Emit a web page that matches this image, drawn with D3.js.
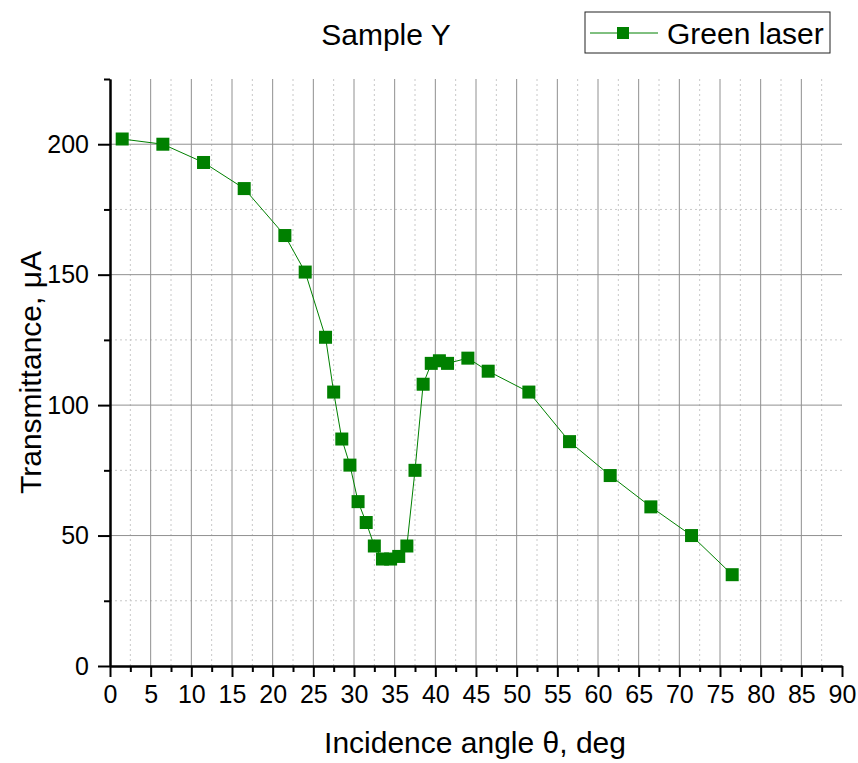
<!DOCTYPE html>
<html>
    <body style="margin:0; background:#fff;">
        <svg id="mySvg" width="858" height="763" style="display:block;"></svg>
        <script src="https://d3js.org/d3.v7.min.js"></script>
        <script>
            // incidence angle (deg) and transmittance (uA)
            const angles = [1.5, 6.5, 11.5, 16.5, 21.5, 24, 26.5, 27.5, 28.5, 29.5, 30.5, 31.5, 32.5, 33.5, 34.5,
                            35.5, 36.5, 37.5, 38.5, 39.5, 40.5, 41.5, 44, 46.5, 51.5, 56.5, 61.5, 66.5, 71.5, 76.5];
            const transmittance = [202, 200, 193, 183, 165, 151, 126, 105, 87, 77, 63, 55, 46, 41, 41,
                                   42, 46, 75, 108, 116, 117, 116, 118, 113, 105, 86, 73, 61, 50, 35];
            const xTicks = d3.range(0, 91, 5);
            const xMinorTicks = d3.range(2.5, 90, 5);
            const yTicks = [0, 50, 100, 150, 200];
            const yMinorTicks = [25, 75, 125, 175, 225];
            const seriesName = 'Green laser';

            const data = angles.map((a, i) => ({x: a, y: transmittance[i]}));

            const svg = d3.select('body #mySvg');
            const margin = {top: 79, right: 16, bottom: 97, left: 110};
            const svgWidth = +svg.attr('width');
            const svgHeight = +svg.attr('height');
            const innerWidth = svgWidth - margin.left - margin.right;
            const innerHeight = svgHeight - margin.top - margin.bottom;
            const font = 'Arial, "Liberation Sans", sans-serif';
            const green = '#008000';

            const g = svg.append('g')
                         .attr('transform', `translate(${margin.left}, ${margin.top})`);

            const xScale = d3.scaleLinear().domain([0, 90]).range([0, innerWidth]);
            const yScale = d3.scaleLinear().domain([0, 225]).range([innerHeight, 0]);

            // grid
            const grid = g.append('g');
            grid.selectAll('.vminor').data(xMinorTicks).enter().append('line')
                .attr('x1', d => xScale(d)).attr('x2', d => xScale(d))
                .attr('y1', 0).attr('y2', innerHeight)
                .attr('stroke', '#c8c8c8').attr('stroke-dasharray', '2,3');
            grid.selectAll('.hminor').data(yMinorTicks.filter(d => d < 225)).enter().append('line')
                .attr('y1', d => yScale(d)).attr('y2', d => yScale(d))
                .attr('x1', 0).attr('x2', innerWidth)
                .attr('stroke', '#c8c8c8').attr('stroke-dasharray', '2,3');
            grid.selectAll('.vmajor').data(xTicks.filter(d => d > 0 && d < 90)).enter().append('line')
                .attr('x1', d => xScale(d)).attr('x2', d => xScale(d))
                .attr('y1', 0).attr('y2', innerHeight)
                .attr('stroke', '#909090');
            grid.selectAll('.hmajor').data(yTicks.filter(d => d > 0)).enter().append('line')
                .attr('y1', d => yScale(d)).attr('y2', d => yScale(d))
                .attr('x1', 0).attr('x2', innerWidth)
                .attr('stroke', '#909090');

            // axes (minor ticks carry no labels)
            const xAxis = d3.axisBottom(xScale).tickValues(xTicks).tickSize(11).tickSizeOuter(0).tickPadding(8);
            const xMinor = d3.axisBottom(xScale).tickValues(xMinorTicks).tickSize(6).tickSizeOuter(0);
            const yAxis = d3.axisLeft(yScale).tickValues(yTicks).tickSize(12).tickSizeOuter(0).tickPadding(9);
            const yMinor = d3.axisLeft(yScale).tickValues(yMinorTicks).tickSize(6).tickSizeOuter(0);

            g.append('g').attr('transform', `translate(0, ${innerHeight})`).call(xMinor)
             .selectAll('text').remove();
            g.append('g').attr('transform', `translate(0, ${innerHeight})`).call(xAxis)
             .attr('font-family', font).attr('font-size', 25);
            g.append('g').call(yMinor)
             .selectAll('text').remove();
            g.append('g').call(yAxis)
             .attr('font-family', font).attr('font-size', 25);

            g.selectAll('.domain').attr('stroke', '#000').attr('stroke-width', 2);
            g.selectAll('.tick line').attr('stroke', '#000').attr('stroke-width', 2);
            g.selectAll('.tick text').attr('fill', '#000');

            // series
            const line = d3.line().x(d => xScale(d.x)).y(d => yScale(d.y));
            g.append('path')
             .datum(data)
             .attr('d', line)
             .attr('fill', 'none')
             .attr('stroke', green)
             .attr('stroke-width', 1);

            const size = 13;
            g.append('g')
             .selectAll('rect')
             .data(data)
             .enter()
             .append('rect')
             .attr('x', d => xScale(d.x) - size / 2)
             .attr('y', d => yScale(d.y) - size / 2)
             .attr('width', size)
             .attr('height', size)
             .attr('fill', green);

            // titles
            svg.append('text')
               .attr('x', 386).attr('y', 45)
               .attr('text-anchor', 'middle')
               .attr('font-family', font).attr('font-size', 30)
               .text('Sample Y');

            svg.append('text')
               .attr('x', 475).attr('y', 753)
               .attr('text-anchor', 'middle')
               .attr('font-family', font).attr('font-size', 30)
               .text('Incidence angle θ, deg');

            svg.append('text')
               .attr('transform', `translate(41, ${margin.top + innerHeight / 2}) rotate(-90)`)
               .attr('text-anchor', 'middle')
               .attr('font-family', font).attr('font-size', 30)
               .text('Transmittance, μA');

            // legend
            const legend = svg.append('g').attr('transform', 'translate(585, 12)');
            legend.append('rect')
                  .attr('width', 245).attr('height', 41)
                  .attr('fill', '#fff').attr('stroke', '#222').attr('stroke-width', 1);
            legend.append('line')
                  .attr('x1', 5).attr('x2', 73).attr('y1', 21).attr('y2', 21)
                  .attr('stroke', green).attr('stroke-width', 1);
            legend.append('rect')
                  .attr('x', 38 - 6).attr('y', 21 - 6)
                  .attr('width', 12).attr('height', 12)
                  .attr('fill', green);
            legend.append('text')
                  .attr('x', 82).attr('y', 32)
                  .attr('font-family', font).attr('font-size', 30)
                  .text(seriesName);
        </script>
    </body>
</html>
